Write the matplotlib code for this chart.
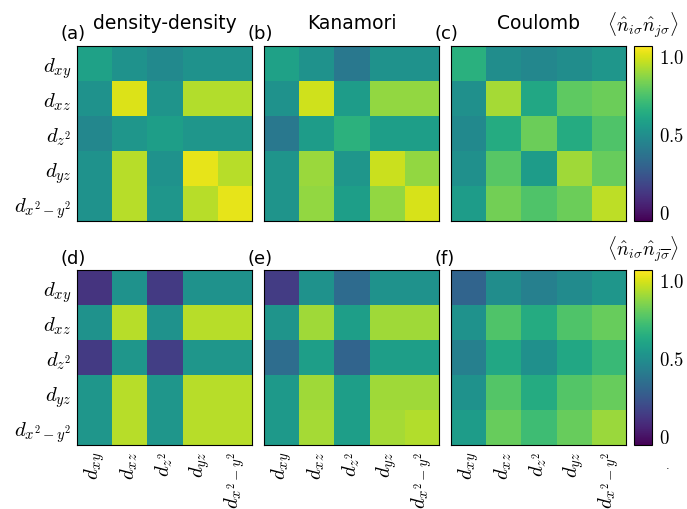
import matplotlib
matplotlib.use("Agg")
import matplotlib.pyplot as plt
import numpy as np

plt.rcParams.update({
    "mathtext.fontset": "cm",
    "font.family": "DejaVu Sans",
})

ORBITALS = [r"$d_{xy}$", r"$d_{xz}$", r"$d_{z^2}$", r"$d_{yz}$", r"$d_{x^2-y^2}$"]
TITLES = ["density-density", "Kanamori", "Coulomb"]
LETTERS = ["(a)", "(b)", "(c)", "(d)", "(e)", "(f)"]
CBAR_LABELS = [r"$\langle\hat{n}_{i\sigma}\hat{n}_{j\sigma}\rangle$",
               r"$\langle\hat{n}_{i\sigma}\hat{n}_{j\overline{\sigma}}\rangle$"]
CBAR_TICKS = [0, 0.5, 1.0]
CBAR_TICKLABELS = [r"$0$", r"$0.5$", r"$1.0$"]

# same spin <n_is n_js>
same_dd = [[0.58, 0.51, 0.47, 0.51, 0.51],
           [0.51, 1.00, 0.52, 0.93, 0.93],
           [0.46, 0.53, 0.57, 0.53, 0.53],
           [0.51, 0.94, 0.51, 1.02, 0.94],
           [0.51, 0.94, 0.53, 0.94, 1.02]]
same_kan = [[0.58, 0.51, 0.39, 0.51, 0.51],
            [0.51, 0.98, 0.56, 0.88, 0.88],
            [0.39, 0.56, 0.66, 0.57, 0.57],
            [0.52, 0.89, 0.53, 0.97, 0.88],
            [0.52, 0.88, 0.57, 0.88, 0.99]]
same_coul = [[0.65, 0.49, 0.46, 0.49, 0.53],
             [0.50, 0.91, 0.61, 0.78, 0.81],
             [0.47, 0.63, 0.81, 0.63, 0.75],
             [0.50, 0.77, 0.56, 0.90, 0.80],
             [0.56, 0.82, 0.75, 0.81, 0.95]]

# opposite spin <n_is n_j-s>
opp_dd = [[0.11, 0.51, 0.13, 0.51, 0.51],
          [0.51, 0.94, 0.51, 0.94, 0.94],
          [0.13, 0.53, 0.15, 0.53, 0.53],
          [0.53, 0.94, 0.53, 0.94, 0.94],
          [0.53, 0.94, 0.53, 0.94, 0.94]]
opp_kan = [[0.14, 0.51, 0.33, 0.51, 0.51],
           [0.52, 0.90, 0.57, 0.90, 0.90],
           [0.34, 0.57, 0.30, 0.57, 0.57],
           [0.54, 0.90, 0.57, 0.90, 0.90],
           [0.54, 0.91, 0.57, 0.91, 0.93]]
opp_coul = [[0.30, 0.49, 0.43, 0.48, 0.53],
            [0.51, 0.75, 0.63, 0.75, 0.80],
            [0.43, 0.61, 0.50, 0.61, 0.70],
            [0.51, 0.76, 0.63, 0.76, 0.80],
            [0.56, 0.80, 0.71, 0.80, 0.89]]

VMIN, VMAX = -0.06, 1.06

fig = plt.figure(figsize=(6.87, 5.10), dpi=100)

lefts = [0.112, 0.384, 0.656]
bottoms = [0.565, 0.1255]
w, h = 0.255, 0.343

rows = [[same_dd, same_kan, same_coul], [opp_dd, opp_kan, opp_coul]]

for r, (bot, mats) in enumerate(zip(bottoms, rows)):
    for c, (left, m) in enumerate(zip(lefts, mats)):
        ax = fig.add_axes([left, bot, w, h])
        im = ax.imshow(np.array(m), cmap="viridis", vmin=VMIN, vmax=VMAX,
                       interpolation="nearest", aspect="auto")
        ax.set_xticks(range(5))
        ax.set_yticks(range(5))
        ax.tick_params(length=0, labelsize=15, pad=4)
        if c == 0:
            ax.set_yticklabels(ORBITALS)
        else:
            ax.set_yticklabels([])
        if r == 1:
            ax.set_xticklabels(ORBITALS, rotation=90)
        else:
            ax.set_xticklabels([])
        if r == 0:
            ax.set_title(TITLES[c], fontsize=13.5, pad=13)
        ax.text(-0.095, 1.02, LETTERS[3 * r + c], transform=ax.transAxes,
                fontsize=13, ha="left", va="bottom")

    cax = fig.add_axes([0.923, bot, 0.026, h])
    cb = fig.colorbar(im, cax=cax, ticks=CBAR_TICKS)
    cb.ax.set_yticklabels(CBAR_TICKLABELS)
    cb.ax.tick_params(length=0, labelsize=13.5, pad=5)
    cb.ax.text(0.5, 1.04, CBAR_LABELS[r], transform=cb.ax.transAxes,
               fontsize=14, ha="center", va="bottom")

fig.text(0.972, 0.08, ".", fontsize=8, ha="center")

fig.savefig("out.png", dpi=100)
